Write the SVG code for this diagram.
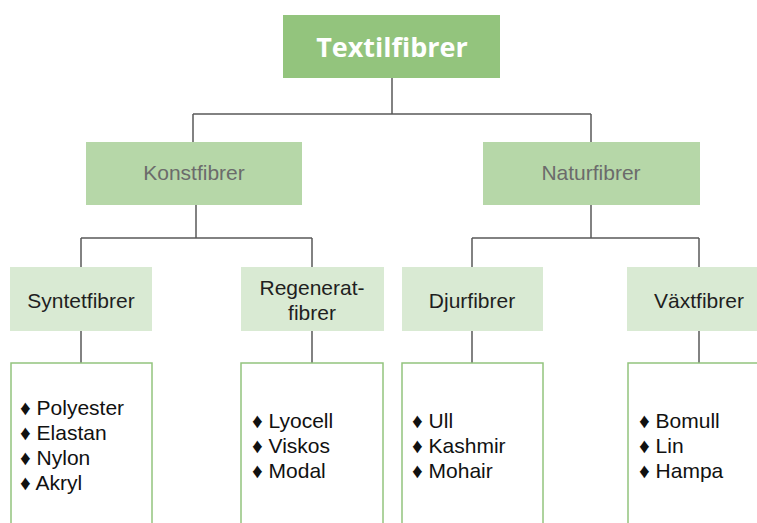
<svg xmlns="http://www.w3.org/2000/svg" width="757" height="523" viewBox="0 0 757 523">
<style>
.l1{fill:#93c47d}
.l2{fill:#b6d7a8}
.l3{fill:#d9ead3}
.leaf{fill:#ffffff;stroke:#93c47d;stroke-width:1.5}
.t1{font-family:"Open Sans",sans-serif;font-weight:bold;font-size:27px;fill:#ffffff;text-anchor:middle}
.t2{font-family:"Liberation Sans",Arial,sans-serif;font-size:21px;fill:#6b6b6b;text-anchor:middle}
.t3{font-family:"Liberation Sans",Arial,sans-serif;font-size:21px;fill:#1f1f1f;text-anchor:middle}
.t4{font-family:"Liberation Sans",Arial,sans-serif;font-size:21px;fill:#111111}
.conn{fill:none;stroke:#595959;stroke-width:1.5}
</style>
<rect width="757" height="523" fill="#ffffff"/>
<g id="connectors" class="conn">
<path d="M392 78V114M193 114H591M193 114V142M591 114V142"/>
<path d="M196 205V238M81 238H312M81 238V267M312 238V267"/>
<path d="M591 205V238M472 238H699M472 238V267M699 238V267"/>
<path d="M81 331V363M312 331V363M472 331V363M699 331V363"/>
</g>
<g id="textilfibrer"><rect class="l1" x="283" y="15" width="217" height="63"/><text class="t1" x="392" y="57">Textilfibrer</text></g>
<g id="konstfibrer"><rect class="l2" x="86" y="142" width="216" height="63"/><text class="t2" x="194" y="180">Konstfibrer</text></g>
<g id="naturfibrer"><rect class="l2" x="483" y="142" width="217" height="63"/><text class="t2" x="591" y="180">Naturfibrer</text></g>
<g id="syntetfibrer"><rect class="l3" x="10" y="267" width="142" height="64"/><text class="t3" x="81" y="308">Syntetfibrer</text></g>
<g id="regeneratfibrer"><rect class="l3" x="241" y="267" width="143" height="64"/><text class="t3" x="312" y="295">Regenerat-</text><text class="t3" x="312" y="320">fibrer</text></g>
<g id="djurfibrer"><rect class="l3" x="402" y="267" width="141" height="64"/><text class="t3" x="472" y="308">Djurfibrer</text></g>
<g id="vaxtfibrer"><rect class="l3" x="627" y="267" width="142" height="64"/><text class="t3" x="699" y="308">Växtfibrer</text></g>
<g id="leaf-syntet"><rect class="leaf" x="11" y="363" width="141" height="180"/>
<text class="t4" x="20" y="415">♦ Polyester</text><text class="t4" x="20" y="440">♦ Elastan</text><text class="t4" x="20" y="465">♦ Nylon</text><text class="t4" x="20" y="490">♦ Akryl</text></g>
<g id="leaf-regenerat"><rect class="leaf" x="241" y="363" width="142" height="180"/>
<text class="t4" x="252" y="428">♦ Lyocell</text><text class="t4" x="252" y="453">♦ Viskos</text><text class="t4" x="252" y="478">♦ Modal</text></g>
<g id="leaf-djur"><rect class="leaf" x="402" y="363" width="141" height="180"/>
<text class="t4" x="412" y="428">♦ Ull</text><text class="t4" x="412" y="453">♦ Kashmir</text><text class="t4" x="412" y="478">♦ Mohair</text></g>
<g id="leaf-vaxt"><rect class="leaf" x="628" y="363" width="142" height="180"/>
<text class="t4" x="639" y="428">♦ Bomull</text><text class="t4" x="639" y="453">♦ Lin</text><text class="t4" x="639" y="478">♦ Hampa</text></g>
</svg>
